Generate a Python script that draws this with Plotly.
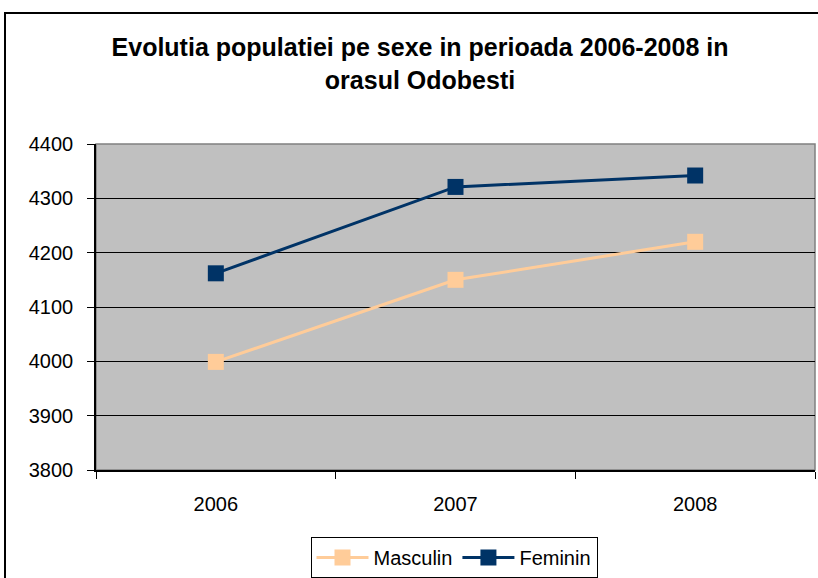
import plotly.graph_objects as go

years = ["2006", "2007", "2008"]
masculin = [3999, 4150, 4220]
feminin = [4162, 4321, 4342]

W, H = 818, 578
L, R, T, B = 96, 815, 144, 470
pw, ph = R - L, B - T

fig = go.Figure()
fig.add_trace(go.Scatter(x=years, y=masculin, name="Masculin", mode="lines+markers",
                         line=dict(color="#FFCC99", width=3),
                         marker=dict(symbol="square", size=16, color="#FFCC99")))
fig.add_trace(go.Scatter(x=years, y=feminin, name="Feminin", mode="lines+markers",
                         line=dict(color="#003366", width=3),
                         marker=dict(symbol="square", size=16, color="#003366")))

def px(x):
    return (x - L) / pw

def py(y):
    return (B - y) / ph

shapes = [
    dict(type="rect", xref="paper", yref="paper", x0=0, x1=1, y0=0, y1=1,
         line=dict(color="#808080", width=1.5), layer="below"),
    dict(type="rect", xref="paper", yref="paper", x0=px(5), x1=px(840), y0=py(620), y1=py(13),
         line=dict(color="black", width=2)),
]

fig.update_layout(
    width=W, height=H,
    margin=dict(l=L, r=W - R, t=T, b=H - B, autoexpand=False),
    paper_bgcolor="white", plot_bgcolor="#C0C0C0",
    font=dict(family="Arial, Liberation Sans, sans-serif", size=20, color="black"),
    title=dict(text="<b>Evolutia populatiei pe sexe in perioada 2006-2008 in<br>orasul Odobesti</b>",
               x=420 / W, xanchor="center", y=1 - 56 / H, yanchor="middle",
               xref="container", yref="container",
               font=dict(size=25, family="Arial, Liberation Sans, sans-serif", color="black")),
    showlegend=True,
    legend=dict(orientation="h", x=px(454), xanchor="center", y=py(537), yanchor="top",
                bordercolor="black", borderwidth=1, bgcolor="white",
                font=dict(size=20), itemwidth=52, traceorder="normal"),
    shapes=shapes,
)
fig.update_xaxes(type="category", range=[-0.5, 2.5], showgrid=False,
                 showline=True, linecolor="black", linewidth=1.5,
                 ticks="outside", tickson="boundaries", ticklen=7, tickcolor="black",
                 ticklabelstandoff=15, zeroline=False)
fig.update_yaxes(range=[3800, 4400], dtick=100, showgrid=True, gridcolor="black", gridwidth=1,
                 showline=True, linecolor="black", linewidth=1.5,
                 ticks="outside", ticklen=7, tickcolor="black", ticklabelstandoff=10,
                 zeroline=False)

fig.write_html("out.html", config={"displayModeBar": False},
               post_script="document.body.style.margin='0';document.body.style.overflow='hidden';")
